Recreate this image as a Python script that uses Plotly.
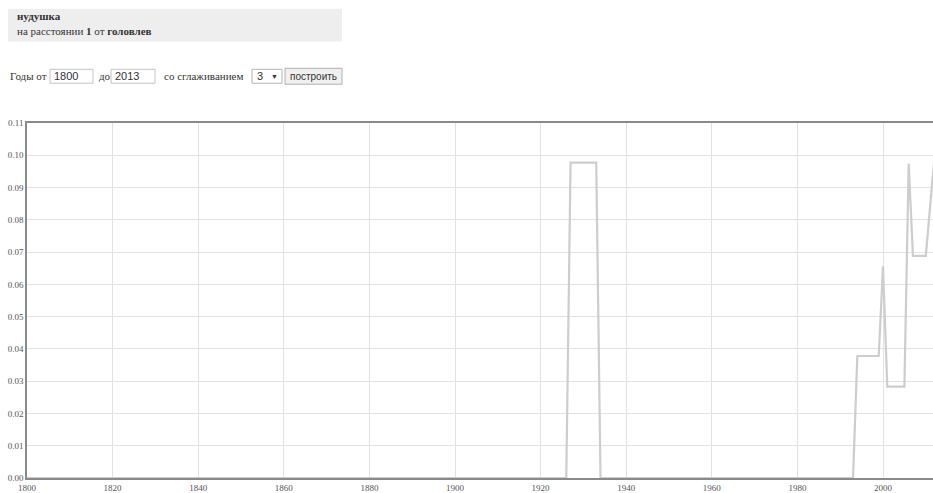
import plotly.graph_objects as go

# Data (breakpoints of the smoothed series; line is linear between them)
years = [1800, 1926, 1927, 1933, 1934, 1993, 1994, 1999, 2000, 2001, 2005, 2006, 2007, 2010, 2011, 2012, 2013]
values = [0.0, 0.0, 0.0977, 0.0977, 0.0, 0.0, 0.0378, 0.0378, 0.0656, 0.0283, 0.0283, 0.0974, 0.0688, 0.0688, 0.084, 0.099, 0.099]

x_ticks = [1800, 1820, 1840, 1860, 1880, 1900, 1920, 1940, 1960, 1980, 2000]
y_ticks = [0.00, 0.01, 0.02, 0.03, 0.04, 0.05, 0.06, 0.07, 0.08, 0.09, 0.10, 0.11]

W, H = 933, 493
L, R, T, B = 27, 933, 123, 480  # plot area in window pixels

def px(p):
    return (p - L) / (R - L)

def py(p):
    return (B - p) / (B - T)

SERIF = "Liberation Serif"
SANS = "Liberation Sans"

fig = go.Figure()
fig.add_trace(go.Scatter(
    x=years, y=values, mode="lines",
    line=dict(color="#cdcdcd", width=2.2),
    hoverinfo="skip", showlegend=False,
))

shapes = []
annotations = []

def rect(x0, y0, x1, y1, fill, line, lw=1):
    shapes.append(dict(type="rect", xref="paper", yref="paper",
                       x0=px(x0), x1=px(x1), y0=py(y1), y1=py(y0),
                       fillcolor=fill, line=dict(color=line, width=lw), layer="above"))

def text(x, y, s, font=SERIF, size=11, color="#333", anchor="left"):
    annotations.append(dict(xref="paper", yref="paper", x=px(x), y=py(y), text=s,
                            showarrow=False, xanchor=anchor, yanchor="middle",
                            font=dict(family=font, size=size, color=color)))

# header box
rect(8, 8, 342, 41, "#eeeeee", "#eeeeee", 0)
text(15, 15.5, "<b>нудушка</b>", size=11, color="#333")
text(15, 30, "на расстоянии <b>1</b> от <b>головлев</b>", size=11, color="#333")

# controls
text(8, 76, "Годы от", size=11)
rect(50, 69, 93, 83, "white", "#c4c4c4")
text(51.5, 76, "1800", font=SANS, size=11, color="#333")
text(97, 76, "до", size=11)
rect(111, 69, 155, 83, "white", "#c4c4c4")
text(112.5, 76, "2013", font=SANS, size=11, color="#333")
text(162, 76, "со сглаживанием", size=11)
rect(252, 69, 282, 83, "white", "#b4b4b4")
text(255, 76, "3", font=SANS, size=11, color="#333")
text(269, 76, "▼", font=SANS, size=7, color="#333")
rect(285, 68, 342, 84, "#f0f0f0", "#b0b0b0")
text(313.5, 76, "построить", font=SANS, size=10, color="#333", anchor="center")

fig.update_layout(
    width=W, height=H,
    margin=dict(l=L, r=W - R, t=T, b=H - B, pad=0),
    paper_bgcolor="white", plot_bgcolor="white",
    shapes=shapes, annotations=annotations,
    xaxis=dict(range=[1800, 1800 + (R - L) / 4.28], tickvals=x_ticks,
               ticktext=[str(v) for v in x_ticks],
               showgrid=True, gridcolor="#e2e2e2", gridwidth=1,
               showline=True, linecolor="#8a8a8a", linewidth=1.6, mirror=True,
               zeroline=False, ticks="", ticklen=0,
               tickfont=dict(family=SERIF, size=9, color="#555")),
    yaxis=dict(range=[0, 0.11], tickvals=y_ticks,
               ticktext=["%.2f" % v for v in y_ticks],
               showgrid=True, gridcolor="#e2e2e2", gridwidth=1,
               showline=True, linecolor="#8a8a8a", linewidth=1.6, mirror=False,
               zeroline=False, ticks="", ticklen=0,
               tickfont=dict(family=SERIF, size=9, color="#555")),
)

fig.write_html("out.html",
               config={"displayModeBar": False},
               post_script="document.body.style.margin='0';document.body.style.overflow='hidden';")
